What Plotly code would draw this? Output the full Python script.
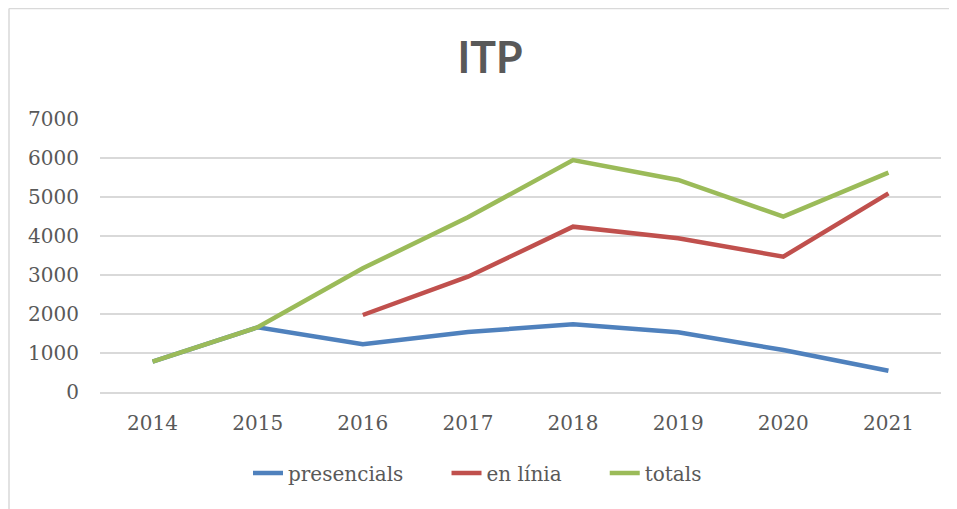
import plotly.graph_objects as go

years = ["2014", "2015", "2016", "2017", "2018", "2019", "2020", "2021"]
presencials = [777, 1659, 1222, 1540, 1735, 1530, 1077, 547]
en_linia = [None, None, 1974, 2957, 4239, 3940, 3470, 5094]
totals = [777, 1659, 3171, 4479, 5949, 5436, 4496, 5623]
y_ticks = [0, 1000, 2000, 3000, 4000, 5000, 6000, 7000]
series_names = ["presencials", "en línia", "totals"]

# page body has an 8px margin, so the figure is placed at (8, 8)
W, H = 949, 501
L, R, T, B = 92, 16, 111, 117
PW, PH = W - L - R, H - T - B
PAD = "&nbsp;" * 6  # extra spacing between legend entries

fig = go.Figure()
fig.add_trace(go.Scatter(x=years, y=presencials, name=series_names[0] + PAD, mode="lines",
                         line=dict(color="#4f81bd", width=4.5)))
fig.add_trace(go.Scatter(x=years, y=en_linia, name=series_names[1] + PAD, mode="lines",
                         line=dict(color="#c0504d", width=4.5)))
fig.add_trace(go.Scatter(x=years, y=totals, name=series_names[2], mode="lines",
                         line=dict(color="#9bbb59", width=4.5)))

def px_x(x):
    return (x - L) / PW

def px_y(y):
    return (T + PH - y) / PH

fig.update_layout(
    width=W, height=H,
    margin=dict(l=L, r=R, t=T, b=B),
    paper_bgcolor="white", plot_bgcolor="white",
    title=dict(text="<b>ITP</b>", x=482 / W, xanchor="center", xref="container",
               y=1 - 50 / H, yanchor="middle", yref="container",
               font=dict(family="Lato", size=43, color="#595959")),
    showlegend=True,
    legend=dict(orientation="h", x=px_x(240), xanchor="left",
                y=px_y(465), yanchor="middle",
                font=dict(family="DejaVu Serif", size=20, color="#595959"),
                bgcolor="rgba(0,0,0,0)"),
    font=dict(family="DejaVu Serif", size=20, color="#595959"),
    shapes=[
        dict(type="line", xref="paper", yref="paper",
             x0=px_x(1), x1=px_x(1), y0=px_y(0.5), y1=px_y(520),
             line=dict(color="#d9d9d9", width=1.5)),
        dict(type="line", xref="paper", yref="paper",
             x0=px_x(1), x1=px_x(970), y0=px_y(0.5), y1=px_y(0.5),
             line=dict(color="#d9d9d9", width=1.5)),
    ],
)
fig.update_xaxes(type="category", range=[-0.5, 7.5], showgrid=False, showline=True,
                 linecolor="#d9d9d9", linewidth=1.5, ticks="", ticklabelstandoff=12,
                 tickfont=dict(family="DejaVu Serif", size=20, color="#595959"))
fig.update_yaxes(range=[0, 7000], tickvals=y_ticks, showgrid=True, gridcolor="#d9d9d9",
                 gridwidth=1.5, zeroline=False, showline=False, ticks="",
                 ticklabelstandoff=20,
                 tickfont=dict(family="DejaVu Serif", size=20, color="#595959"))

fig.write_html("out.html")
